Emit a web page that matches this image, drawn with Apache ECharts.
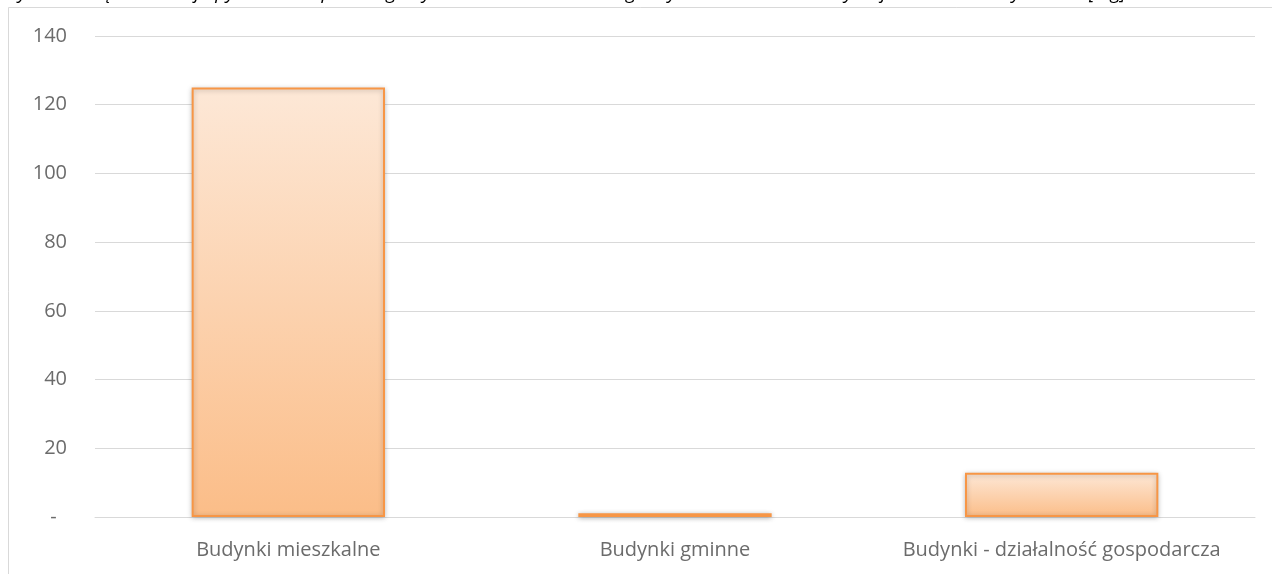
<!DOCTYPE html>
<html>
<head>
<meta charset="utf-8">
<style>
  html, body { margin: 0; padding: 0; background: #ffffff; }
  #chart { width: 1272px; height: 574px; }
</style>
<script src="https://cdn.jsdelivr.net/npm/echarts@6/dist/echarts.min.js"></script>
</head>
<body>
<div id="chart"></div>
<script>
// Sectors and their emission values [Mg]
const categories = ['Budynki mieszkalne', 'Budynki gminne', 'Budynki - działalność gospodarcza'];
const emissions = [125, 1.1, 12.9];
const yTicks = { min: 0, max: 140, interval: 20 };
const captionText = 'Wykres 12 Łączna emisja pyłu PM10 z poszczególnych sektorów na terenie gminy w ramach inwentaryzacji w roku bazowym 2015 [Mg]';

const chart = echarts.init(document.getElementById('chart'), null, { renderer: 'canvas' });

const barFill = new echarts.graphic.LinearGradient(0, 0, 0, 1, [
  { offset: 0, color: '#fde8d7' },
  { offset: 1, color: '#fbbd88' }
]);

const labelFont = '"Open Sans", sans-serif';

chart.setOption({
  animation: false,
  backgroundColor: '#ffffff',
  graphic: [
    {
      type: 'polyline',
      silent: true,
      shape: { points: [[8.5, 600], [8.5, 7.5], [1300, 7.5]] },
      style: { stroke: '#d9d9d9', lineWidth: 1, fill: null }
    },
    {
      type: 'text',
      silent: true,
      x: 2,
      y: 3.5,
      style: {
        text: captionText,
        font: 'italic 19px "Open Sans"',
        fill: '#000000',
        verticalAlign: 'bottom'
      }
    }
  ],
  grid: { left: 95, right: 17, top: 36, bottom: 57, containLabel: false },
  xAxis: {
    type: 'category',
    data: categories,
    axisTick: { show: false },
    axisLine: { show: true, lineStyle: { color: '#d9d9d9', width: 1 } },
    axisLabel: { color: '#6b6b6b', fontFamily: labelFont, fontSize: 20, margin: 23, interval: 0 }
  },
  yAxis: {
    type: 'value',
    min: yTicks.min,
    max: yTicks.max,
    interval: yTicks.interval,
    axisLine: { show: false },
    axisTick: { show: false },
    splitLine: { lineStyle: { color: '#d9d9d9', width: 1 } },
    axisLabel: {
      color: '#6b6b6b',
      fontFamily: labelFont,
      fontSize: 20,
      margin: 28,
      formatter: v => (v === 0 ? '-  ' : String(v))
    }
  },
  series: [{
    type: 'bar',
    data: emissions,
    barWidth: '50%',
    itemStyle: {
      color: barFill,
      borderColor: '#f79646',
      borderWidth: 2,
      shadowBlur: 5,
      shadowColor: 'rgba(0,0,0,0.25)',
      shadowOffsetY: 1
    }
  }]
});
</script>
</body>
</html>
